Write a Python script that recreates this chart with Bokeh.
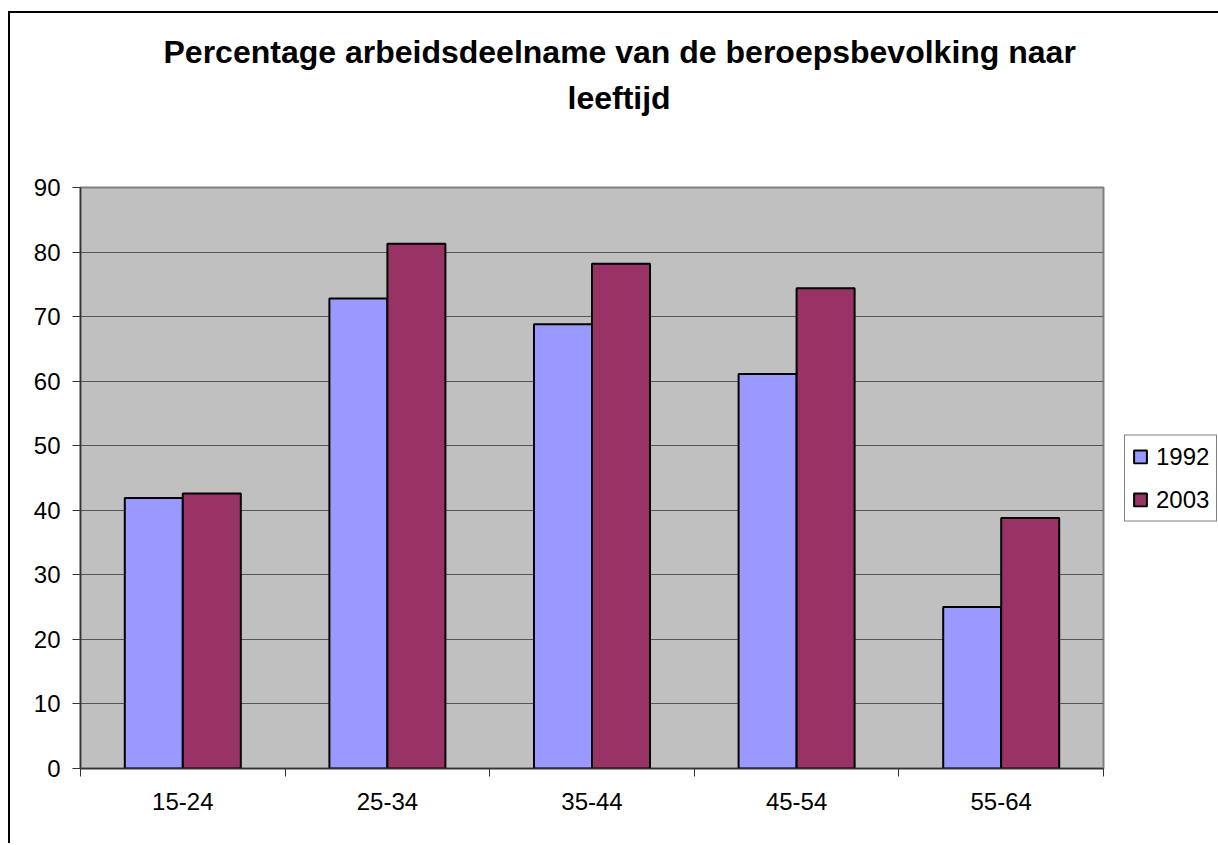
from bokeh.plotting import figure
from bokeh.models import Range1d, FixedTicker, Legend, LegendItem, Title, ColumnDataSource
from bokeh.transform import dodge
from bokeh.embed import file_html
from bokeh.resources import INLINE

# ---- data ----
ages = ["15-24", "25-34", "35-44", "45-54", "55-64"]
y1992 = [41.9, 72.8, 68.8, 61.1, 25.0]
y2003 = [42.6, 81.3, 78.2, 74.4, 38.8]
series = ["1992", "2003"]
colors = ["#9999FF", "#993366"]
title_lines = ["Percentage arbeidsdeelname van de beroepsbevolking naar", "leeftijd"]
yticks = list(range(0, 100, 10))

FONT = "Liberation Sans"

centers = [i + 0.5 for i in range(len(ages))]
src = ColumnDataSource(dict(x=centers, y1992=y1992, y2003=y2003))

p = figure(frame_width=1023, frame_height=581, x_range=Range1d(0, len(ages)),
           y_range=Range1d(0, 90),
           output_backend="svg", toolbar_location=None, title=None,
           min_border_left=70, min_border_right=113, min_border_top=174, min_border_bottom=75)

p.styles = {"border-left": "2px solid black", "border-top": "2px solid black",
            "margin-top": "11px", "margin-left": "8px"}

p.background_fill_color = "#C0C0C0"
p.border_fill_color = "white"
p.outline_line_color = "#808080"
p.outline_line_width = 2

bw = 0.2835
r1 = p.vbar(x=dodge("x", -bw / 2, range=p.x_range), top="y1992", width=bw, source=src,
            fill_color=colors[0], line_color="black", line_width=2)
r2 = p.vbar(x=dodge("x", bw / 2, range=p.x_range), top="y2003", width=bw, source=src,
            fill_color=colors[1], line_color="black", line_width=2)

# axes
xa = p.xaxis[0]
xa.ticker = FixedTicker(ticks=centers, minor_ticks=list(range(len(ages) + 1)))
xa.major_label_overrides = {c: a for c, a in zip(centers, ages)}
xa.major_tick_line_color = None
xa.minor_tick_out = 8
xa.minor_tick_in = 0
xa.minor_tick_line_color = "#333333"
xa.axis_line_color = "#333333"
xa.axis_line_width = 1.5
xa.major_label_text_font = FONT
xa.major_label_text_font_size = "24px"
xa.major_label_text_color = "black"
xa.major_label_standoff = 16

ya = p.yaxis[0]
ya.ticker = FixedTicker(ticks=yticks)
ya.major_tick_out = 8
ya.major_tick_in = 0
ya.minor_tick_line_color = None
ya.major_tick_line_color = "#333333"
ya.axis_line_color = "#333333"
ya.axis_line_width = 1.5
ya.major_label_text_font = FONT
ya.major_label_text_font_size = "24px"
ya.major_label_text_color = "black"
ya.major_label_standoff = 12

p.xgrid.visible = False
p.ygrid.ticker = FixedTicker(ticks=yticks)
p.ygrid.grid_line_color = "#555555"
p.ygrid.grid_line_width = 1

# titles (first added is nearest the plot); an invisible spacer keeps the gap to the frame
gap = Title(text=" ", text_font_size="1px", standoff=65)
t2 = Title(text=title_lines[1], align="left", text_font=FONT, text_font_size="32px",
           text_font_style="bold", text_color="black", offset=487, standoff=8)
t1 = Title(text=title_lines[0], align="left", text_font=FONT, text_font_size="32px",
           text_font_style="bold", text_color="black", offset=83, standoff=8)
p.add_layout(gap, "above")
p.add_layout(t2, "above")
p.add_layout(t1, "above")

legend = Legend(items=[LegendItem(label=series[0], renderers=[r1]),
                       LegendItem(label=series[1], renderers=[r2])],
                location="center_left", border_line_color="black", border_line_width=1,
                background_fill_color="white", background_fill_alpha=1,
                padding=7, spacing=15, glyph_width=16, glyph_height=16, label_standoff=8,
                label_text_font=FONT, label_text_font_size="24px", label_text_color="black",
                margin=21)
p.add_layout(legend, "right")

open("out.html", "w").write(file_html(p, INLINE))
